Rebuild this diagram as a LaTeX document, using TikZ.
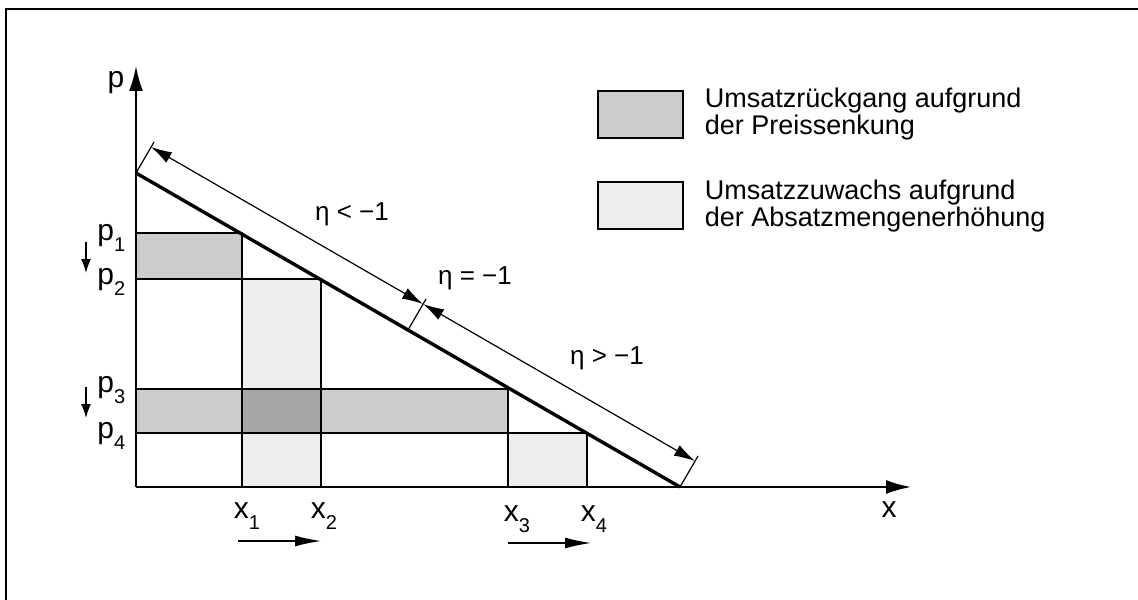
\documentclass[tikz,border=0pt]{standalone}
\usepackage{fontspec}
\setmainfont{Liberation Sans}
\usetikzlibrary{arrows.meta, calc}
\tikzset{every path/.style={line width=0.8pt}}
\tikzset{
  dunkel/.style={fill=gray!40, draw=black},
  hell/.style={fill=gray!13, draw=black},
  beide/.style={fill=gray!70, draw=black},
  achse/.style={line width=1pt, -{Latex[length=12.5pt,width=7pt]}},
  kurve/.style={line width=1.7pt},
  mass/.style={line width=0.6pt, {Latex[length=10.5pt,width=6pt]}-{Latex[length=10.5pt,width=6pt]}},
  pfeil/.style={line width=0.7pt, -{Latex[length=13pt,width=5.5pt]}},
  kurzpfeil/.style={line width=0.7pt, -{Latex[length=7pt,width=5pt]}},
  achstext/.style={inner sep=0pt, font=\fontsize{15}{17}\selectfont},
  etatext/.style={inner sep=0pt, font=\fontsize{13}{15}\selectfont},
  legtext/.style={inner sep=0pt, align=left, font=\fontsize{13.5}{12}\selectfont},
}
\newcommand{\idx}[2]{#1\raisebox{-5.5pt}{\fontsize{10}{11}\selectfont #2}}

\begin{document}
\begin{tikzpicture}[x=0.5pt,y=-0.5pt]
    \useasboundingbox (0,0) rectangle (1138,599);
    % Rahmen
    \draw[line width=1pt] (6,620) -- (6,9) -- (1160,9);

    % Punkte
    \coordinate (O) at (136,487);
    \coordinate (A) at (136,173);
    \coordinate (B) at (680,487);
    \coordinate (P1) at (242,233);
    \coordinate (P2) at (321,279);
    \coordinate (P3) at (508,389);
    \coordinate (P4) at (587,433);

    % Flaechen
    \draw[hell] (P1 |- P2) rectangle (P2 |- O);
    \draw[hell] (P3 |- P4) rectangle (P4 |- O);
    \draw[dunkel] (O |- P1) rectangle (P1 |- P2);
    \draw[dunkel] (O |- P3) rectangle (P3 |- P4);
    \draw[beide] (P1 |- P3) rectangle (P2 |- P4);

    % Achsen
    \coordinate (ptop) at (136,66);
    \coordinate (xend) at (911,487);
    \draw[achse] (O) -- (ptop);
    \draw[achse] (O) -- (xend);
    \node[achstext] (plab) at (116,83) {p};
    \node[achstext] (xlab) at (889,510) {x};

    \node[achstext, anchor=base east] (p1) at (126,240) {\idx{p}{1}};
    \node[achstext, anchor=base east] (p2) at (126,284) {\idx{p}{2}};
    \node[achstext, anchor=base east] (p3) at (126,392) {\idx{p}{3}};
    \node[achstext, anchor=base east] (p4) at (126,438) {\idx{p}{4}};

    \node[achstext, anchor=base west] (x1) at (233,518) {\idx{x}{1}};
    \node[achstext, anchor=base west] (x2) at (310,518) {\idx{x}{2}};
    \node[achstext, anchor=base west] (x3) at (503,521) {\idx{x}{3}};
    \node[achstext, anchor=base west] (x4) at (580,521) {\idx{x}{4}};

    % Preissenkung / Mengenerhoehung
    \coordinate (s1a) at (86,242);
    \coordinate (s1b) at (86,273);
    \coordinate (s2a) at (86,387);
    \coordinate (s2b) at (86,418);
    \draw[kurzpfeil] (s1a) -- (s1b);
    \draw[kurzpfeil] (s2a) -- (s2b);
    \coordinate (m1a) at (238,541);
    \coordinate (m1b) at (321,541);
    \coordinate (m2a) at (508,543);
    \coordinate (m2b) at (591,543);
    \draw[pfeil] (m1a) -- (m1b);
    \draw[pfeil] (m2a) -- (m2b);

    % Nachfragekurve
    \draw[kurve] (A) -- (B);

    % Elastizitaet
    \coordinate (M) at ($(A)!0.5!(B)$);
    \foreach \e in {A,M,B} \draw[line width=0.6pt] (\e) -- ++(18,-31);
    \draw[mass] ($(A)+(15,-26)$) -- ($(M)+(15,-26)$);
    \draw[mass] ($(M)+(15,-26)$) -- ($(B)+(15,-26)$);
    \node[etatext] (e1) at (352,214) {η < −1};
    \node[etatext] (e2) at (475,278) {η = −1};
    \node[etatext] (e3) at (607,358) {η > −1};

    % Legende
    \draw[dunkel] (598,91) rectangle (683,138);
    \node[legtext, anchor=west] (leg1) at (704,114) {Umsatzrückgang aufgrund\\der Preissenkung};
    \draw[hell] (598,182) rectangle (683,229);
    \node[legtext, anchor=west] (leg2) at (704,206) {Umsatzzuwachs aufgrund\\der Absatzmengenerhöhung};
\end{tikzpicture}
\end{document}
